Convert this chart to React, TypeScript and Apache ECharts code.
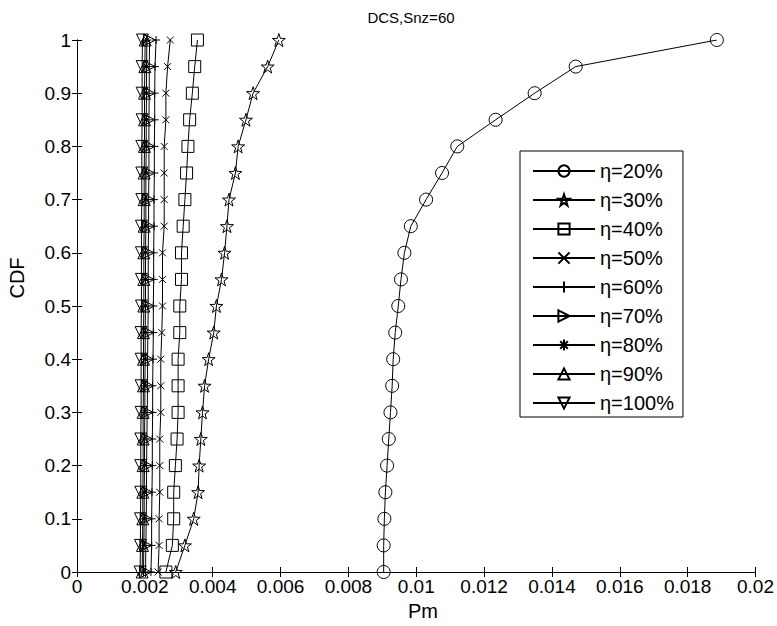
import React, { useEffect, useRef } from "react";
import * as echarts from "echarts";

// CDF levels shared by every curve
const cdf = [
  0, 0.05, 0.1, 0.15, 0.2, 0.25, 0.3, 0.35, 0.4, 0.45, 0.5,
  0.55, 0.6, 0.65, 0.7, 0.75, 0.8, 0.85, 0.9, 0.95, 1,
];

// Pm values (x 1e-3) for each efficiency level, one per CDF level
const pmEta20 = [
  9.04, 9.04, 9.06, 9.09, 9.14, 9.19, 9.24, 9.29, 9.32, 9.38, 9.47,
  9.55, 9.65, 9.84, 10.29, 10.76, 11.21, 12.34, 13.49, 14.7, 18.86,
];
const pmEta30 = [
  2.91, 3.18, 3.44, 3.57, 3.6, 3.65, 3.7, 3.76, 3.88, 4.03, 4.11,
  4.26, 4.35, 4.42, 4.48, 4.67, 4.75, 4.98, 5.19, 5.62, 5.95,
];
const pmEta40 = [
  2.62, 2.81, 2.85, 2.85, 2.9, 2.95, 2.98, 2.98, 2.98, 3.03, 3.03,
  3.08, 3.08, 3.13, 3.18, 3.23, 3.27, 3.32, 3.4, 3.47, 3.55,
];
const pmEta50 = [
  2.39, 2.42, 2.42, 2.44, 2.44, 2.44, 2.47, 2.47, 2.47, 2.5, 2.52,
  2.52, 2.52, 2.57, 2.57, 2.57, 2.57, 2.62, 2.62, 2.67, 2.75,
];
const pmEta60 = [
  2.18, 2.2, 2.2, 2.21, 2.22, 2.22, 2.23, 2.23, 2.24, 2.25, 2.25,
  2.26, 2.26, 2.27, 2.27, 2.28, 2.28, 2.29, 2.29, 2.3, 2.33,
];
const pmEta70 = [
  2.02, 2.03, 2.04, 2.05, 2.05, 2.06, 2.07, 2.08, 2.08, 2.09, 2.1,
  2.1, 2.1, 2.11, 2.11, 2.12, 2.12, 2.12, 2.13, 2.13, 2.14,
];
const pmEta80 = [
  1.96, 1.97, 1.98, 1.98, 1.99, 1.99, 2.0, 2.0, 2.01, 2.01, 2.02,
  2.02, 2.02, 2.03, 2.03, 2.03, 2.04, 2.04, 2.05, 2.05, 2.06,
];
const pmEta90 = [
  1.92, 1.93, 1.94, 1.94, 1.95, 1.95, 1.95, 1.96, 1.96, 1.96, 1.97,
  1.97, 1.97, 1.98, 1.98, 1.98, 1.99, 1.99, 1.99, 2.0, 2.01,
];
const pmEta100 = [
  1.86, 1.87, 1.87, 1.88, 1.88, 1.88, 1.89, 1.89, 1.89, 1.89, 1.9,
  1.9, 1.9, 1.9, 1.91, 1.91, 1.91, 1.92, 1.92, 1.92, 1.93,
];

const seriesNames = [
  "η=20%", "η=30%", "η=40%", "η=50%", "η=60%",
  "η=70%", "η=80%", "η=90%", "η=100%",
];
const seriesValues = [
  pmEta20, pmEta30, pmEta40, pmEta50, pmEta60,
  pmEta70, pmEta80, pmEta90, pmEta100,
];

// open five-pointed star outline
const starPath = (() => {
  const pts: string[] = [];
  for (let i = 0; i < 10; i++) {
    const r = i % 2 === 0 ? 5 : 1.95;
    const a = -Math.PI / 2 + (i * Math.PI) / 5;
    pts.push(`${(5 + r * Math.cos(a)).toFixed(3)},${(5 + r * Math.sin(a)).toFixed(3)}`);
  }
  return "path://M" + pts.join("L") + "Z";
})();

const markers: { symbol: string; size: number }[] = [
  { symbol: "circle", size: 13 },
  { symbol: starPath, size: 13 },
  { symbol: "rect", size: 12 },
  { symbol: "path://M0,0L10,10M0,10L10,0", size: 7 },
  { symbol: "path://M5,0L5,10M0,5L10,5", size: 8 },
  { symbol: "path://M0,0L10,5L0,10Z", size: 12 },
  { symbol: "path://M5,0L5,10M0,5L10,5M1.6,1.6L8.4,8.4M1.6,8.4L8.4,1.6", size: 9 },
  { symbol: "path://M5,0L10,9L0,9Z", size: 12 },
  { symbol: "path://M0,0L10,0L5,9Z", size: 12 },
];

const FONT = "'Liberation Sans', Arial, Helvetica, sans-serif";
const TICK_SIZE = 19;
const LEGEND_SIZE = 20;
const LABEL_SIZE = 20;
const TITLE_SIZE = 15;

export default function App() {
  const ref = useRef<HTMLDivElement>(null);

  useEffect(() => {
    document.body.style.margin = "0";
    if (!ref.current) return;
    const chart = echarts.init(ref.current, undefined, { renderer: "svg" });

    const axisLine = { show: true, lineStyle: { color: "#000", width: 1 } };
    const tick = { show: true, inside: true, length: 5, lineStyle: { color: "#000" } };

    const series = seriesNames.map((name, i) => ({
      name,
      type: "line" as const,
      xAxisIndex: 0,
      yAxisIndex: 0,
      data: seriesValues[i].map((v, j) => [v / 1000, cdf[j]]),
      symbol: markers[i].symbol,
      symbolSize: markers[i].size,
      showAllSymbol: true,
      itemStyle: { color: "rgba(0,0,0,0)", borderColor: "#000", borderWidth: 1 },
      lineStyle: { color: "#000", width: 1 },
      emphasis: { disabled: true },
      z: 10 - i,
    }));

    chart.setOption({
      animation: false,
      backgroundColor: "#fff",
      textStyle: { fontFamily: FONT },
      grid: { left: 77, right: 20, top: 40, bottom: 54, containLabel: false },
      xAxis: [
        {
          type: "value",
          position: "bottom",
          min: 0,
          max: 0.02,
          interval: 0.002,
          axisLine,
          axisTick: tick,
          splitLine: { show: false },
          axisLabel: {
            color: "#000",
            fontSize: TICK_SIZE,
            fontFamily: FONT,
            margin: 5,
            formatter: (v: number) => String(+v.toFixed(3)),
          },
        },
        {
          type: "value",
          position: "top",
          min: 0,
          max: 0.02,
          interval: 0.002,
          axisLine,
          axisTick: tick,
          splitLine: { show: false },
          axisLabel: { show: false },
        },
      ],
      yAxis: [
        {
          type: "value",
          position: "left",
          min: 0,
          max: 1,
          interval: 0.1,
          axisLine,
          axisTick: tick,
          splitLine: { show: false },
          axisLabel: {
            color: "#000",
            fontSize: TICK_SIZE,
            fontFamily: FONT,
            margin: 6,
            formatter: (v: number) => String(+v.toFixed(1)),
          },
        },
        {
          type: "value",
          position: "right",
          min: 0,
          max: 1,
          interval: 0.1,
          axisLine,
          axisTick: tick,
          splitLine: { show: false },
          axisLabel: { show: false },
        },
      ],
      legend: {
        orient: "vertical",
        left: 520,
        top: 151,
        data: seriesNames,
        backgroundColor: "#fff",
        borderColor: "#000",
        borderWidth: 1,
        borderRadius: 0,
        padding: [10, 9, 4, 12],
        itemWidth: 62,
        itemHeight: 14,
        itemGap: 9,
        selectedMode: false,
        textStyle: {
          color: "#000",
          fontSize: LEGEND_SIZE,
          lineHeight: 19,
          fontFamily: FONT,
        },
      },
      graphic: [
        {
          type: "text",
          x: 411,
          y: 17,
          style: {
            text: "DCS,Snz=60",
            fill: "#000",
            font: `${TITLE_SIZE}px ${FONT}`,
            textAlign: "center",
            textVerticalAlign: "middle",
          },
        },
        {
          type: "text",
          x: 423,
          y: 611,
          style: {
            text: "Pm",
            fill: "#000",
            font: `${LABEL_SIZE}px ${FONT}`,
            textAlign: "center",
            textVerticalAlign: "middle",
          },
        },
        {
          type: "text",
          x: 17,
          y: 278,
          rotation: Math.PI / 2,
          style: {
            text: "CDF",
            fill: "#000",
            font: `${LABEL_SIZE}px ${FONT}`,
            textAlign: "center",
            textVerticalAlign: "middle",
          },
        },
      ],
      series,
    });

    return () => chart.dispose();
  }, []);

  return (
    <div
      ref={ref}
      style={{ position: "absolute", left: 0, top: 0, width: 777, height: 626 }}
    />
  );
}
